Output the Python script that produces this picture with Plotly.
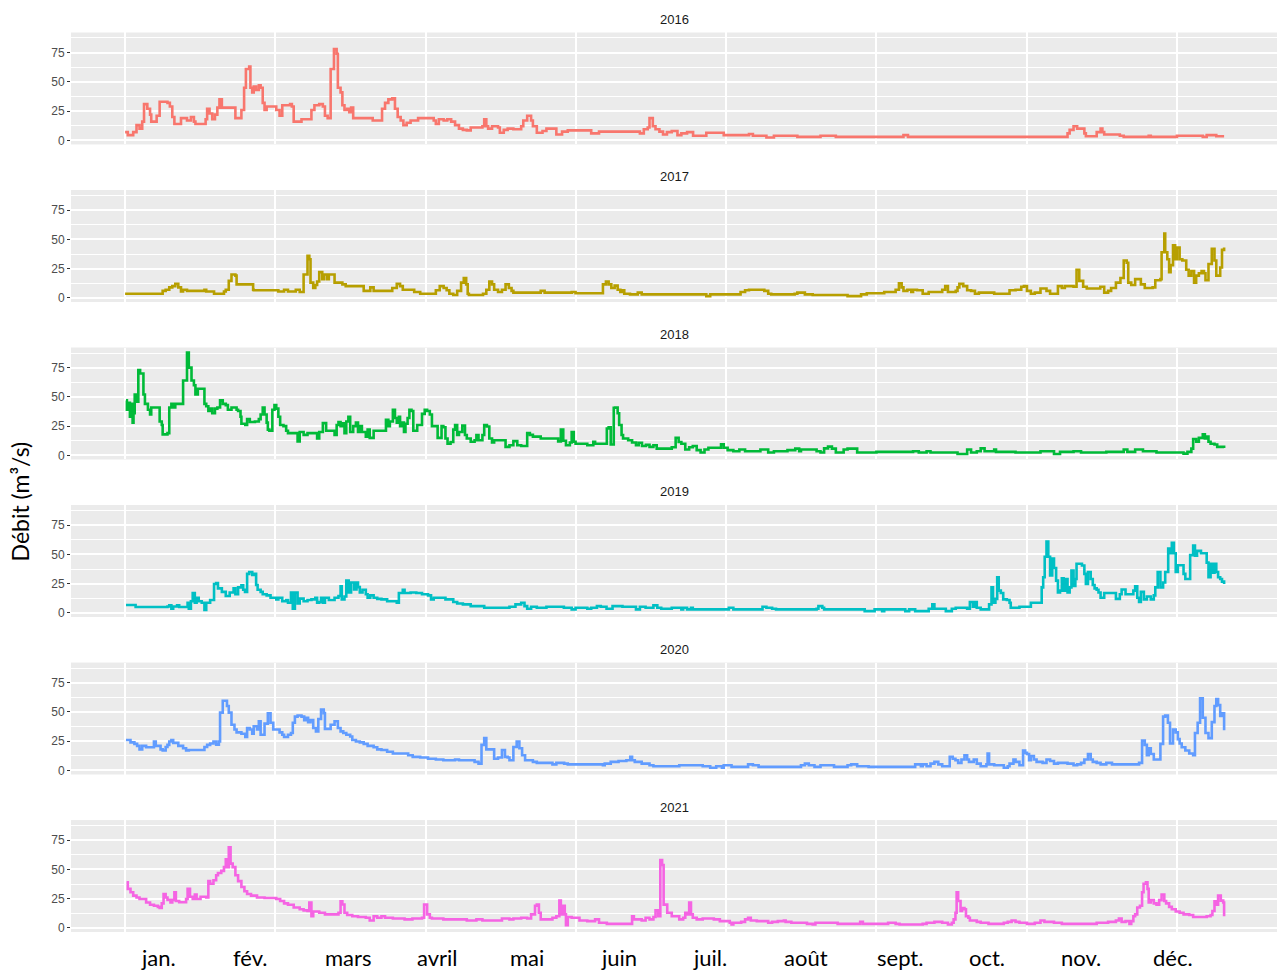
import plotly.graph_objects as go

# ---------------- data (day of year, discharge m3/s) ----------------
years = ["2016", "2017", "2018", "2019", "2020", "2021"]
colors = ["#F8766D", "#B79F00", "#00BA38", "#00BFC4", "#619CFF", "#F564E3"]

q2016 = [(0, 7), (0.9, 4.5), (2.7, 7), (3.8, 13), (4.8, 10), (5.7, 16), (6.3, 31), (7.4, 27), (8.3, 22), (8.7, 16),
         (10.5, 21), (11.5, 33), (14.1, 32), (14.9, 29), (15.7, 20), (16.4, 14), (18.6, 19), (20.6, 17), (21.9, 20),
         (22.9, 16), (23.4, 14), (26.8, 18), (27.3, 27), (28.1, 23), (29, 18), (29.9, 22), (30.7, 28), (31.4, 35),
         (32.2, 28), (36.7, 19), (38.7, 26), (39.6, 45), (40.2, 61), (41.3, 63), (41.7, 45), (42.3, 41), (42.8, 46),
         (43.6, 43), (44.5, 47), (45.1, 45), (45.8, 32), (46.4, 26), (47.1, 29), (50.3, 26), (51.4, 21), (52.3, 30),
         (54.9, 31), (55.5, 29), (56.1, 16), (58.7, 18), (62, 26), (63, 30), (64.6, 31), (65.8, 29), (66.5, 21),
         (67.4, 19), (68.4, 61), (69.5, 78), (70.4, 74), (70.8, 45), (71.7, 41), (72.3, 30), (73, 26), (73.9, 27),
         (74.6, 24), (75.2, 28), (75.9, 19), (82.4, 17), (85.5, 27), (86.5, 32), (87.6, 35), (88.9, 36), (89.8, 27),
         (90.7, 20), (91.7, 17), (92.6, 13), (93.7, 15), (95, 17), (97.5, 19), (102.7, 17), (103.4, 14), (104.4, 18),
         (106, 17), (107.2, 18), (108.5, 16), (109.8, 13), (111.1, 10), (112.4, 9), (113.7, 8.5), (115, 11),
         (118.9, 12), (119.5, 18), (120.2, 12), (120.8, 10), (122.1, 12), (124.1, 11), (124.7, 6.5), (126, 9),
         (127.3, 10), (129.2, 9.5), (131.8, 12), (132.5, 17), (133.8, 21), (135.1, 17), (135.7, 12), (137, 6.5),
         (138.9, 8), (140.2, 10), (143.5, 5), (145.4, 7.5), (147.3, 8.5), (155.1, 6), (157.7, 7.5), (171.3, 6),
         (172.6, 9.5), (173.9, 11), (174.5, 19), (175.6, 12), (176.5, 9.5), (177.8, 7.5), (179, 5), (180.3, 7),
         (181.9, 8), (183.8, 4.5), (185.1, 6), (187, 7), (189, 4), (193.4, 6.5), (199.2, 4.5), (207.6, 5.5),
         (208.9, 4), (213.4, 2.5), (215.9, 4), (223.7, 3), (231.4, 4), (236.5, 3), (259, 4.5), (260.5, 3),
         (313.6, 6), (314.3, 9), (315.6, 12), (316.8, 10), (319.2, 6), (319.7, 3.5), (323.3, 7), (324.6, 10),
         (325.2, 7), (325.8, 5), (331, 4), (332.3, 3), (340.6, 4), (341.3, 3), (349, 3), (350, 4), (358.6, 3),
         (359.9, 4.5), (363.1, 3.5), (365.7, 3.5)]

q2017 = [(0, 3.5), (12.5, 6), (13.5, 7), (14.7, 9), (15.7, 10), (16.7, 12), (17.7, 9), (18.6, 5.5), (19.3, 7),
         (20.6, 6), (26.4, 7), (27, 5.5), (29.6, 3.5), (32.9, 5.5), (33.5, 7), (34.5, 14.5), (35.4, 20), (36.7, 19),
         (37.1, 11.5), (42.6, 7), (42.8, 6.5), (51, 5.5), (52.9, 7), (54.2, 5.5), (56.8, 7), (58.1, 5), (59.4, 20),
         (60.7, 36), (61.3, 33), (61.7, 13), (62.6, 8.5), (63.3, 11), (63.9, 14), (64.6, 22), (65.6, 16), (66.1, 20),
         (67.1, 16), (67.8, 20), (69.7, 13), (72.3, 11.5), (73.4, 10), (79.4, 6), (81.6, 9), (82.7, 6), (88.9, 8.5),
         (90.4, 12), (91.5, 10), (92.4, 7), (96.2, 5), (98.2, 3.5), (103.4, 6.5), (104.7, 10), (106, 8.5),
         (107, 6.5), (107.9, 3.5), (109.2, 2.5), (110.5, 6), (111.8, 13), (112.7, 17), (113.5, 11.5), (114, 3.5),
         (114.4, 2.5), (119.1, 3.5), (120.2, 7), (121.2, 14), (122.1, 11.5), (122.8, 7), (124.1, 5), (125.4, 7),
         (126.6, 11.5), (127.7, 8.5), (128.6, 6), (129.2, 4.5), (138.3, 6), (139.6, 4.5), (148.6, 5), (149.9, 4),
         (159, 11.5), (160, 14), (160.9, 11.5), (161.8, 8.5), (162.9, 10.5), (163.9, 7), (164.8, 5), (165.5, 6.5),
         (166.1, 3.5), (168, 3), (170.6, 4.5), (171.9, 3), (193.4, 1.5), (194.7, 3), (204.8, 5), (206.3, 6.5),
         (207.6, 7), (212.7, 6), (214, 3.5), (215, 3), (222.8, 3.5), (223.7, 4.5), (226.2, 3), (228.8, 2.5),
         (240.4, 1.5), (244.9, 3), (246.8, 4), (252.6, 5), (256.4, 7), (257.5, 12.5), (258.4, 9), (259, 6),
         (260.3, 7), (261.6, 5), (262.2, 7), (263.5, 6.5), (265.4, 3.5), (267.4, 5), (271.9, 7), (272.9, 10),
         (273.8, 5), (276.4, 6), (277, 9), (277.6, 12), (278.9, 10), (280.2, 6.5), (281.5, 6), (282.8, 3.5),
         (284.1, 4.5), (289.2, 3.5), (294.3, 6.5), (296.3, 7), (298.2, 9.5), (299.1, 10), (300.1, 6), (301.4, 3.5),
         (302.7, 4.5), (304.6, 8), (306.6, 6), (307.8, 3.5), (310.4, 10), (311.7, 8.5), (312.7, 10), (315.6, 9.5),
         (316.6, 24), (317.5, 14.5), (318.8, 9.5), (320, 8), (324.5, 9.5), (325.8, 4.5), (327.1, 6), (328.1, 8.5),
         (329.7, 13), (331.2, 17), (332.3, 32), (333.3, 30), (333.8, 13), (334.8, 11), (336.1, 16), (338, 11.5),
         (339.3, 8.5), (341.9, 9), (342.8, 15), (344.5, 16), (344.9, 39), (345.8, 55), (346.1, 39), (346.8, 33),
         (347.4, 22), (347.9, 28), (348.7, 45), (349.4, 33), (350, 43), (350.9, 33), (351.8, 32), (353.1, 24),
         (353.9, 19), (354.8, 23), (355.7, 13), (356.4, 19), (357.3, 21), (358.2, 23), (359, 21), (359.5, 15),
         (360.5, 29), (361.6, 42), (362.5, 32), (363.1, 19), (364.4, 26), (365, 41), (365.7, 43)]

q2018 = [(0.3, 47), (0.6, 39), (1.2, 45), (1.6, 33), (2.1, 44), (2.5, 28), (2.8, 36), (3.2, 52), (3.8, 46),
         (4.4, 73), (5, 70), (6.1, 52), (6.6, 44), (7.6, 39), (8.3, 35), (8.7, 41), (11.5, 29), (12.2, 26),
         (12.5, 18), (14.1, 19), (14.7, 41), (15.4, 44), (16, 41), (16.7, 44), (19.3, 64), (20.6, 88), (21.2, 75),
         (22.1, 64), (22.9, 60), (23.4, 52), (24.2, 57), (26.4, 44), (27, 42), (27.7, 38), (28.3, 40), (29, 36),
         (29.9, 40), (30.7, 41), (31.6, 47), (32.5, 44), (33.5, 43), (34.2, 39), (35.4, 41), (37.1, 39),
         (37.6, 38), (38.4, 33), (38.7, 27), (40, 26), (40.6, 31), (41.5, 28.5), (43.2, 29), (44.5, 31), (45.1, 35),
         (45.8, 41), (46.4, 35), (47.1, 28), (47.5, 22), (48, 21), (49, 39), (49.7, 43), (50.3, 40), (51, 33),
         (51.6, 26), (52.7, 25), (53.6, 21), (54.2, 19), (57.4, 12), (58.1, 20), (59.4, 17.5), (60.7, 19),
         (63.9, 14.5), (64.6, 20), (65.8, 27.6), (66.9, 21), (68.7, 21), (69.7, 17.4), (70.4, 26), (71, 28.5),
         (71.7, 25), (72.3, 27.5), (73, 19), (73.6, 29), (74.3, 33), (74.9, 20), (75.9, 25), (76.8, 28), (77.5, 20),
         (78.1, 25), (78.8, 20), (80.1, 16), (80.7, 22), (81.4, 15), (82.7, 21), (86.8, 30.5), (87.6, 25),
         (88.1, 29), (89.1, 39), (89.8, 32), (90.4, 28), (91.1, 33), (91.5, 25), (92, 28), (92.8, 20), (93.3, 27),
         (94, 32), (94.6, 39), (95.3, 38), (95.9, 21), (97.2, 26), (98.8, 35.5), (99.7, 39), (100.5, 38),
         (101.4, 35), (102.1, 25), (104, 15), (105.3, 25), (105.9, 24), (106.6, 14.5), (107.3, 10), (108.3, 11.5),
         (109.2, 22), (109.8, 26), (110.5, 17.4), (111.1, 20), (112.2, 25.6), (113.1, 17.4), (113.7, 14.5),
         (115, 11.6), (116.3, 13), (116.9, 17.4), (117.6, 13), (118.9, 17.4), (119.5, 26), (120.4, 24.7),
         (121.2, 14.5), (122.1, 11), (122.8, 13), (126.6, 7.3), (127.9, 8.7), (129.2, 12.2), (130.5, 8.7),
         (131.8, 8), (133.8, 19), (134.7, 17.5), (135.7, 16), (138.3, 14.5), (144.1, 12), (145, 22), (145.8, 12.5),
         (146.7, 8.7), (148, 11), (148.6, 20), (149.3, 11.6), (149.9, 10), (153.8, 8.7), (155.8, 11.6),
         (156.4, 10), (160.3, 23), (160.9, 24), (161.6, 9.3), (162.6, 40.7), (163.1, 41), (163.9, 36), (164.4, 26),
         (165.2, 17.4), (165.7, 14.5), (167.4, 13), (168.7, 11), (170, 8.7), (170.9, 10.8), (172, 8), (173.3, 9),
         (174.5, 7.3), (175.8, 8.7), (176.9, 5.8), (179.7, 5.8), (181.9, 7), (183.2, 15), (184.2, 11.5),
         (185.1, 10), (186.4, 5), (187.7, 7), (188.9, 8), (190.2, 4.5), (191.5, 2.5), (192.8, 5), (194.1, 6.5),
         (198.3, 9.5), (199.2, 6.5), (200.5, 4.5), (202.4, 3.5), (204.4, 5), (206.3, 3.5), (211.4, 5), (214, 2.5),
         (215.9, 3.5), (220.4, 4.5), (223, 5.8), (224.3, 3.5), (224.9, 5), (230.1, 3.5), (231.4, 2.5), (232.6, 6),
         (233.9, 7.5), (235.2, 5.8), (236.5, 2.5), (239.1, 5), (240.4, 5.8), (243.6, 2.5), (250, 3), (258.4, 3),
         (262.2, 3.5), (264.1, 2.5), (266.7, 3.5), (268, 2.5), (277, 1.2), (280.2, 5), (281.5, 2.5), (283.4, 3.5),
         (284.7, 6), (286, 3.5), (289.2, 5), (289.8, 3), (296.3, 2.5), (304.6, 3.5), (309.1, 1.2), (311.1, 3),
         (315.6, 3.5), (318.1, 2.5), (326.5, 3), (332.3, 5), (333.5, 3), (336.1, 5), (338.7, 3.5), (343.2, 2.5),
         (352.2, 1.5), (353.5, 3), (354.8, 5.8), (355.4, 14), (356.4, 11.6), (357.3, 15), (358.6, 18),
         (359.3, 14.5), (359.9, 16), (360.5, 11.6), (361.2, 10), (362.5, 9.3), (363.4, 7.3), (365.7, 6.4)]

q2019 = [(0.3, 6.7), (3.5, 5), (14.1, 5.5), (14.7, 6.5), (15.4, 3.5), (16, 5.5), (17.3, 6.5), (18, 5),
         (20.8, 8.7), (21.2, 3.5), (21.9, 10), (22.5, 17), (23.2, 8.7), (23.8, 13), (24.5, 10), (25.5, 8.7),
         (26.4, 2.5), (27, 8.7), (28.3, 11), (29.6, 24.7), (30.3, 25.6), (30.9, 21), (32.2, 18), (33.5, 14.5),
         (34.8, 17.5), (36.1, 21), (36.7, 16), (37.6, 21.8), (38.7, 23.5), (39.3, 19.8), (39.9, 18), (40.6, 33.4),
         (41.3, 35), (42.3, 32.5), (42.8, 33.5), (43.6, 23.8), (44.1, 19.8), (45.1, 18), (45.8, 16), (47.1, 15),
         (48.4, 13), (50.3, 11.6), (51, 13), (52.3, 10), (53.6, 11), (54.2, 8.7), (55.2, 17.4), (55.8, 3.5),
         (56.5, 17.4), (57.4, 8), (58.1, 12.2), (59.4, 10), (60.7, 11), (62, 11.6), (63.3, 13), (63.9, 8.7),
         (64.6, 9.3), (65.2, 13), (65.8, 8.7), (66.5, 13), (67.8, 11), (69.7, 13), (71, 14.5), (71.7, 22.7),
         (72.1, 11.6), (73, 14), (73.6, 27.6), (74.4, 17.4), (75.2, 26), (76.2, 20), (77, 26), (77.5, 22),
         (78.1, 17.4), (79, 19.8), (80.1, 16), (80.7, 13), (81.6, 15), (82.7, 13), (83.9, 12), (85.3, 11.6),
         (87.2, 10), (90.4, 8.7), (91.1, 17), (92.4, 19.8), (93, 17), (95, 17.4), (96.9, 17), (98.8, 16),
         (100.8, 15), (101.8, 11.6), (102.7, 13), (106.6, 11.6), (109.2, 9.3), (110.5, 8), (112.4, 7.3),
         (115, 5.8), (119.5, 4.4), (127.9, 5.2), (129.9, 7.3), (131.8, 8.7), (132.9, 5.8), (133.8, 3.5),
         (135.1, 5.2), (137, 4.4), (140.2, 5.2), (146, 4.4), (148.6, 3), (149.9, 4.4), (153.8, 3.5), (155.1, 4.4),
         (157, 5.8), (158.3, 5.2), (160.2, 3.5), (162.2, 5.8), (165.5, 5.2), (170, 3), (171.3, 5.2), (173.2, 4.4),
         (175.8, 6.4), (177.1, 4.4), (178.4, 3.5), (181.9, 4.4), (185.1, 3), (185.7, 4.4), (187, 3), (188.3, 4.4),
         (188.9, 3), (200.9, 4.4), (202.4, 3), (212.1, 5.2), (213.4, 4.4), (215.3, 3.5), (216.6, 3), (230.1, 3.5),
         (230.7, 5.8), (232, 4.4), (232.6, 3), (246.1, 1.5), (249.4, 3), (251.9, 1.5), (252.6, 3), (259.6, 1.5),
         (260.9, 3), (262.9, 1.5), (267.4, 3.5), (268.6, 7.3), (269.3, 3.5), (273.1, 1.5), (275.1, 3.5),
         (276.4, 4.4), (280.2, 3.5), (281.1, 9.3), (282.1, 5.2), (282.8, 9.3), (283.4, 4.4), (284.7, 3),
         (287.5, 7.3), (288.3, 21.8), (288.8, 8.7), (289.6, 12), (290.2, 30.5), (290.7, 19), (291.4, 17),
         (292.2, 11.6), (293.4, 11), (294.3, 8.7), (294.7, 4.4), (297.6, 5.2), (301.4, 8.7), (305, 21.8),
         (305.5, 30.5), (306, 48), (306.6, 61), (307.2, 48), (307.8, 32), (308.5, 46.5), (309.1, 38.4),
         (309.8, 27.6), (310.4, 17.4), (311.1, 19), (311.7, 29.6), (312.3, 19), (313, 29), (313.6, 17.4),
         (314.3, 21.8), (314.9, 36.3), (315.6, 23), (316.2, 29), (316.6, 42), (318.4, 40.5), (319.2, 33.4),
         (319.7, 24.7), (320.4, 35), (321.3, 29), (322, 23.8), (322.6, 21), (323.3, 19.8), (323.9, 17.4),
         (324.6, 13), (325.8, 17), (329.7, 12), (331, 16), (331.6, 20), (332.9, 16), (335.5, 19), (336.1, 22.7),
         (336.8, 13), (337.4, 9.3), (338, 18), (339, 11.6), (340, 14), (341.3, 11.6), (342.3, 15), (342.8, 21.8),
         (343.6, 35), (344.5, 21.8), (345.4, 26), (346.1, 35), (347.1, 55), (347.7, 51), (348.3, 60), (349, 51),
         (349.6, 35), (350.3, 40.7), (352.2, 33.4), (352.8, 29), (354.4, 49.4), (355.4, 57.6), (356, 49),
         (356.7, 53), (358, 51), (359.9, 43), (360.5, 30.5), (361.2, 42), (361.8, 34.3), (362.5, 42), (363.1, 35),
         (363.7, 30.5), (364.4, 29), (365, 26.7), (365.7, 24.7)]

q2020 = [(0.3, 26), (1.8, 24), (3.1, 22.7), (4, 21), (4.8, 18), (5.7, 21), (7, 19.8), (9.6, 24.7), (10.2, 21),
         (11.8, 18), (12.5, 17), (13.5, 20), (14.1, 21.8), (14.7, 24.7), (15.4, 26), (16, 23.5), (17.7, 21),
         (19.3, 19), (20.3, 17), (21.2, 17.4), (26.4, 20), (27.3, 21.8), (28.3, 23), (29.4, 24.7), (30.3, 22),
         (31.2, 24.7), (31.6, 49.4), (32.5, 59.6), (33.9, 55), (34.5, 49.4), (35.4, 39), (36.4, 35), (37.1, 32.5),
         (38.7, 31.4), (40, 28.5), (40.6, 36.3), (41.5, 35), (42.3, 31.4), (42.8, 37.8), (43.9, 35), (44.5, 42),
         (45.1, 30.5), (46.4, 40), (47.5, 48.8), (48.4, 40.7), (49.3, 35), (51.4, 32.5), (52.3, 30.5), (52.9, 28.5),
         (54.2, 30.5), (55.2, 32), (55.8, 40.7), (56.5, 46), (57.4, 47), (58.7, 46), (59.6, 43), (60.4, 45),
         (60.9, 41.3), (61.7, 43), (62.6, 36.3), (63.5, 33.4), (64.3, 44), (65.2, 52), (66.1, 49), (66.5, 35.5),
         (68.4, 39), (69.7, 42), (70.8, 36.3), (71.7, 33.4), (72.6, 32), (73.6, 30.5), (74.9, 29), (75.6, 26),
         (76.8, 24.7), (78.1, 24), (79.4, 22.7), (80.7, 21), (82.7, 19.8), (83.9, 18), (85.3, 17.5), (87.2, 16),
         (89.1, 14.5), (94.2, 13), (95.7, 11.6), (98.2, 11), (100.8, 10), (103.4, 9.3), (105.9, 8.7), (109.8, 9.3),
         (111.1, 8.7), (116.3, 7.3), (117.6, 5.8), (118.6, 21.8), (119.5, 27.6), (120.2, 18), (122.8, 10),
         (124.1, 11), (125.4, 17.4), (126.4, 11.6), (127.3, 11), (127.9, 8.7), (129.2, 20), (130.3, 24.7),
         (131.2, 19), (132.1, 13), (133.1, 8.7), (135.7, 7.3), (137, 6.4), (142.2, 5.2), (143.5, 6.4), (146.1, 5.8),
         (147.3, 5.2), (159, 4.4), (159.6, 5.8), (161.6, 7.3), (164.2, 8), (166.8, 8.7), (168.1, 11.6),
         (168.7, 8.7), (169.6, 7.3), (171.9, 5.8), (174.5, 4.4), (175.8, 3.5), (184.4, 4.4), (192.2, 3.5),
         (194.7, 2.3), (196.7, 3.5), (198.6, 2.3), (199.2, 4.4), (201.8, 3), (207.3, 5.2), (208.9, 4.4),
         (210.8, 3), (224.9, 4.4), (226.2, 5.8), (227.5, 4.4), (229.4, 3), (231.4, 4.4), (235.9, 3), (240.4, 4.4),
         (241.6, 5.2), (243.6, 3.5), (247.4, 3), (262.9, 5.2), (264.8, 3.5), (265.4, 5.2), (266.7, 3.5), (268, 5.8),
         (269.3, 7.3), (270.6, 5.2), (271.9, 3.5), (274.4, 11.6), (275.4, 10), (276.3, 8.7), (277.2, 6.4),
         (278.3, 9.3), (279.3, 13), (280.2, 9.3), (280.8, 7.3), (282.4, 9.3), (283.4, 5.8), (284.7, 3.5),
         (286.6, 5.2), (287, 14.5), (287.5, 5.2), (289.2, 4.4), (292.4, 2.3), (293.7, 3.5), (294.3, 5.8),
         (295.6, 9.3), (296.3, 7.3), (297.6, 4.4), (298.8, 17), (299.5, 15), (300.1, 14), (300.8, 8.7),
         (301.4, 12.2), (302.4, 9.3), (303.3, 7.3), (305.3, 6.4), (306.6, 9.3), (307.8, 8), (309.1, 5.8),
         (310.4, 6.4), (313.6, 5.8), (315.6, 4.4), (316.8, 5.2), (318.1, 6.4), (319.2, 9.3), (320.4, 14),
         (321.3, 9.3), (322, 7.3), (323.3, 6.4), (324.6, 5.2), (326.5, 6.4), (328.4, 5.2), (337.4, 6.4),
         (338.4, 25.6), (339.3, 21.8), (340, 13), (340.6, 19), (341.3, 14), (342.3, 9.3), (344.5, 22.7),
         (345.4, 46), (346.1, 47), (347, 40.7), (347.7, 23), (348.7, 35), (349.6, 32.5), (350.3, 26.7), (350.9, 23),
         (351.6, 19.8), (352.8, 17), (354.1, 14.5), (355.4, 13), (356, 32), (356.9, 40.7), (357.7, 61.6),
         (358.6, 45), (359.5, 32), (360.5, 27.6), (361.6, 41.3), (362.5, 55), (363.1, 61), (363.7, 55.8),
         (364.4, 46.5), (365, 48.8), (365.7, 34.3)]

q2021 = [(0.5, 39), (0.9, 33.4), (1.8, 30.5), (2.7, 27.6), (3.8, 26), (4.8, 24.7), (7, 21.8), (8.3, 19.8),
         (9.6, 19), (10.9, 18), (11.5, 17), (12.2, 21), (12.8, 29), (13.5, 26), (14.1, 24), (15.1, 21.8),
         (15.7, 24), (16.4, 30.5), (16.9, 23), (18, 22), (20.3, 24.7), (20.8, 33.4), (21.6, 26.7), (22.5, 24.7),
         (23.2, 28.5), (23.8, 24.7), (25.1, 26.7), (27, 26), (27.7, 40), (28.3, 37.8), (29.4, 40.7), (30.3, 45),
         (30.9, 47), (32, 48.8), (32.9, 52), (33.5, 58.7), (34.2, 52), (34.5, 69), (35.1, 55), (35.8, 52),
         (36.7, 45), (37.6, 40), (38.7, 35), (39.7, 31.4), (40.6, 29), (41.9, 27.6), (43.9, 26), (46.4, 25.6),
         (50.3, 24.7), (51.6, 23), (52.9, 21), (54.2, 19.8), (56.1, 17.4), (58.1, 16), (59.4, 15), (60.7, 14.5),
         (61.3, 21.8), (62, 10), (62.6, 14), (64.6, 13), (66.5, 11.6), (71, 13), (71.7, 22.7), (72.3, 20),
         (73, 13), (73.9, 11), (75.6, 10), (77.5, 9.3), (80.1, 8.7), (81.4, 6.4), (82.7, 10), (83.9, 8.7),
         (85.3, 10), (86.5, 8.7), (89.1, 8), (93, 7.3), (95.6, 8), (98.8, 8.7), (99.5, 20), (100.5, 11.6),
         (101.4, 8.7), (102.1, 8), (105.9, 7.3), (113.7, 6.4), (116.9, 7.3), (118.9, 6.4), (125.4, 8), (127.9, 7.3),
         (129.2, 8), (131.8, 8.7), (133.8, 8), (135.1, 11.6), (136.4, 19), (137, 20), (137.7, 13), (138.3, 7.3),
         (142.2, 8.7), (143.5, 10), (144.5, 23.3), (145, 11.6), (145.8, 19), (146.3, 11.6), (146.7, 2.3),
         (147.3, 9.3), (148.6, 8.7), (151.2, 6.4), (153.8, 5.8), (156.4, 7.3), (157.7, 4.4), (160.3, 3.5),
         (168, 3.5), (168.7, 10), (169.3, 7.3), (171.9, 6.4), (173.2, 8.7), (174.5, 7.3), (175.8, 9.3), (176.5, 15),
         (177.4, 10), (178.1, 58), (178.7, 53.8), (179.2, 19.8), (179.7, 20), (180.4, 13), (181.9, 10),
         (184.4, 7.3), (185.7, 8.7), (186.4, 13), (187, 11.6), (187.7, 21.8), (188.3, 11.6), (188.9, 8.7),
         (190.2, 7.3), (192.2, 8), (195.9, 7.3), (197.9, 5.8), (201.2, 4.4), (201.8, 2.9), (202.4, 4.4), (205, 5.2),
         (206.3, 7.3), (207.3, 8.7), (208.2, 6.4), (210.2, 5.8), (214, 4.4), (215.3, 5.2), (217.2, 5.8),
         (219.2, 6.4), (219.8, 5.2), (221.7, 4.4), (226.9, 3.5), (228.8, 2.9), (229.7, 4.4), (237.1, 3.5),
         (244.6, 5.2), (245.5, 3.5), (253.9, 4.4), (256.4, 3.5), (257.7, 2.9), (265.4, 3.5), (266.7, 4.4),
         (269.3, 5.2), (271.9, 4.4), (273.8, 2.9), (275.1, 4.4), (275.7, 7.3), (276.3, 13), (276.7, 30.5),
         (277.2, 23), (278, 14.5), (278.5, 17), (279.3, 16), (279.8, 10), (280.6, 8.7), (281.1, 6.4), (283.4, 5.2),
         (284.7, 4.4), (287.3, 3.5), (292.4, 4.4), (293.7, 5.2), (295, 6.4), (296.3, 5.2), (297.6, 4.4),
         (300.1, 3.5), (302.7, 4.4), (304.6, 6.4), (305.9, 5.2), (309.1, 4.4), (311.7, 3.5), (323.3, 4.4),
         (327.1, 5.2), (329.7, 6.4), (330.7, 8), (331.6, 5.2), (332.9, 5.8), (334.2, 3.5), (334.8, 5.8),
         (335.5, 10), (336.1, 11.6), (336.8, 17.4), (337.7, 19), (338.4, 30.5), (338.9, 37.8), (339.7, 39),
         (340.2, 33.4), (340.6, 21.8), (341.3, 23.8), (342.3, 21), (343.2, 19.8), (344.1, 23.8), (344.9, 28.5),
         (345.8, 23), (346.4, 21), (347.4, 18), (348.3, 16), (349.6, 14), (350.9, 13), (352.2, 11.6), (354.1, 11),
         (355.4, 9.3), (359.9, 10), (361.2, 11), (361.8, 14.5), (362.5, 22.7), (363.1, 19.8), (363.7, 27.6),
         (364.6, 23.3), (365.4, 21.8), (365.7, 10)]

series = [q2016, q2017, q2018, q2019, q2020, q2021]

y_ticks = [0, 25, 50, 75]
y_minor = [12.5, 37.5, 62.5, 87.5]
x_grid = [0, 50, 100, 150, 200, 250, 300, 350]
month_labels = ["jan.", "fév.", "mars", "avril", "mai", "juin",
                "juil.", "août", "sept.", "oct.", "nov.", "déc."]
month_label_day = [11, 41.6, 74.5, 103.8, 133.8, 164.4, 194.7, 226.6, 257.9, 286.9, 318.2, 348.8]

# ---------------- layout geometry (pixels) ----------------
W, H = 1277, 974
PANEL_LEFT = 71
TOP0, BOT0, STEP = 32.6, 144.9, 158.0
X_RANGE = [-18.0, 383.3]
Y_RANGE = [-3.5, 92.2]

fig = go.Figure()
layout = {}
for i, (yr, pts, col) in enumerate(zip(years, series, colors)):
    sfx = "" if i == 0 else str(i + 1)
    xa, ya = "x" + sfx, "y" + sfx
    fig.add_trace(go.Scatter(
        x=[p[0] for p in pts], y=[p[1] for p in pts],
        mode="lines", line=dict(color=col, width=2.6, shape="hv"),
        xaxis=xa, yaxis=ya, showlegend=False, hoverinfo="skip", name=yr))
    top = TOP0 + STEP * i
    bot = BOT0 + STEP * i
    layout["xaxis" + sfx] = dict(
        domain=[PANEL_LEFT / W, 1.0], anchor=ya, range=X_RANGE,
        tickmode="array", tickvals=x_grid, showticklabels=False,
        showgrid=True, gridcolor="white", gridwidth=1.6,
        zeroline=False, showline=False, ticks="")
    layout["yaxis" + sfx] = dict(
        domain=[1 - bot / H, 1 - top / H], anchor=xa, range=Y_RANGE,
        tickmode="array", tickvals=y_ticks, ticktext=[str(t) for t in y_ticks],
        showgrid=True, gridcolor="white", gridwidth=1.6,
        minor=dict(tickmode="array", tickvals=y_minor, showgrid=True,
                   gridcolor="white", gridwidth=0.9, ticks=""),
        zeroline=False, showline=False,
        ticks="outside", ticklen=3, tickwidth=1, tickcolor="#333333",
        tickfont=dict(family="Liberation Sans, Arial, sans-serif", size=12, color="#4D4D4D"))

annotations = []
# strip titles
for i, yr in enumerate(years):
    annotations.append(dict(
        text=yr, xref="paper", yref="paper",
        x=(PANEL_LEFT / W + 1.0) / 2, y=1 - (19.5 + STEP * i) / H,
        xanchor="center", yanchor="middle", showarrow=False,
        font=dict(family="Liberation Sans, Arial, sans-serif", size=13, color="#1A1A1A")))
# month labels under the last panel
for lab, d in zip(month_labels, month_label_day):
    annotations.append(dict(
        text=lab, xref="x6", yref="paper", x=d, y=1 - 960 / H,
        xanchor="center", yanchor="middle", showarrow=False,
        font=dict(family="Lato, 'Noto Sans', sans-serif", size=22, color="#000000")))
# y-axis title
annotations.append(dict(
    text="Débit (m³/s)", xref="paper", yref="paper", x=20 / W, y=1 - 503 / H,
    xanchor="center", yanchor="middle", textangle=-90, showarrow=False,
    font=dict(family="Lato, 'Noto Sans', sans-serif", size=23, color="#000000")))

fig.update_layout(
    width=W, height=H, autosize=False,
    margin=dict(l=0, r=0, t=0, b=0, pad=0),
    paper_bgcolor="white", plot_bgcolor="#EBEBEB",
    showlegend=False, annotations=annotations, **layout)

# remove the browser's default 8px body margin so the figure fills the window
fig.write_html("out.html",
               config={"displayModeBar": False},
               post_script="document.body.style.margin='0px';document.body.style.overflow='hidden';")
